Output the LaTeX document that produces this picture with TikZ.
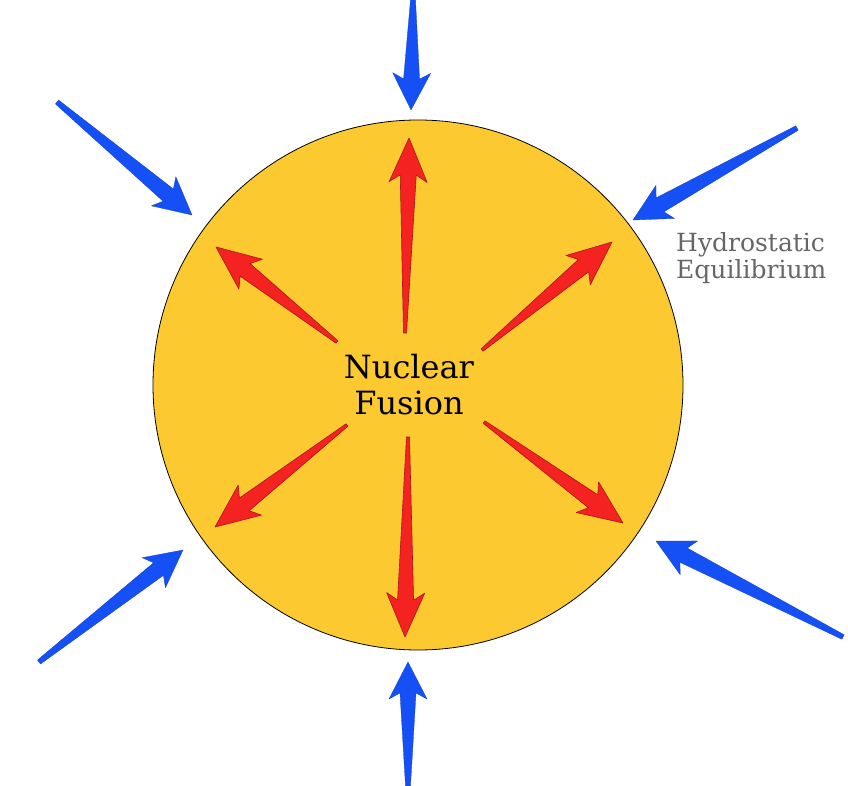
\documentclass[tikz,border=0pt]{standalone}
\usepackage{fontspec}
\setmainfont{DejaVu Serif}
\usetikzlibrary{calc}
\definecolor{sunyellow}{HTML}{FCCA30}
\definecolor{redarrow}{HTML}{F52222}
\definecolor{rededge}{HTML}{A81414}
\definecolor{bluearrow}{HTML}{1450F5}
\definecolor{labelgray}{HTML}{666666}
\newcommand\fatarrow[8]{%
  % #1 style, #2 tail, #3 tip, #4 tail half width, #5 shaft half width at head,
  % #6 head half width, #7 junction distance from tip, #8 barb distance from tip
  \coordinate (#2j) at ($(#3)!#7!(#2)$);
  \coordinate (#2b) at ($(#3)!#8!(#2)$);
  \path[#1] ($(#2)!#4!90:(#3)$) -- ($(#2j)!#5!-90:(#2)$) -- ($(#2b)!#6!-90:(#2)$)
    -- (#3) -- ($(#2b)!#6!90:(#2)$) -- ($(#2j)!#5!90:(#2)$) -- ($(#2)!#4!-90:(#3)$) -- cycle;
}
\tikzset{
  redstyle/.style={fill=redarrow, draw=rededge, line width=0.6pt, line join=round},
  bluestyle/.style={fill=bluearrow, draw=bluearrow!80!black, line width=0.3pt, line join=round},
}
\begin{document}
\begin{tikzpicture}[x=1pt,y=-1pt]
\useasboundingbox (0,0) rectangle (848,786);
% star
\node (sun) [circle, draw=black, line width=0.8pt, fill=sunyellow, minimum size=530pt, inner sep=0pt] at (418,385) {};
% red arrows (outward)
\coordinate (r1t) at (405,333); \coordinate (r1h) at (409,138);
\coordinate (r2t) at (337,342); \coordinate (r2h) at (216,247);
\coordinate (r3t) at (482,350); \coordinate (r3h) at (612,242);
\coordinate (r4t) at (347,425); \coordinate (r4h) at (215,527);
\coordinate (r5t) at (408,437); \coordinate (r5h) at (405,637);
\coordinate (r6t) at (484,422); \coordinate (r6h) at (623,523);
\foreach \n in {r1,r2,r3,r4,r5,r6}{
  \fatarrow{redstyle}{\n t}{\n h}{1.5pt}{8pt}{19pt}{37pt}{44pt}
}
% blue arrows (inward)
\coordinate (b1t) at (413,0);   \coordinate (b1h) at (411,110);
\coordinate (b2t) at (57,102);  \coordinate (b2h) at (192,215);
\coordinate (b3t) at (797,128); \coordinate (b3h) at (633,220);
\coordinate (b4t) at (39,662);  \coordinate (b4h) at (183,550);
\coordinate (b5t) at (408,786); \coordinate (b5h) at (408,662);
\coordinate (b6t) at (843,637); \coordinate (b6h) at (656,541);
\foreach \n in {b1,b2,b3,b4,b5,b6}{
  \fatarrow{bluestyle}{\n t}{\n h}{2.5pt}{8pt}{19pt}{31pt}{37pt}
}
% labels
\node (nf) [font=\fontsize{32}{36}\selectfont, align=center, inner sep=0pt] at (409,385) {Nuclear\\Fusion};
\node (he) [font=\fontsize{25}{27}\selectfont, text=labelgray, align=left, anchor=west, inner sep=0pt] at (676,258) {Hydrostatic\\Equilibrium};
\end{tikzpicture}
\end{document}
